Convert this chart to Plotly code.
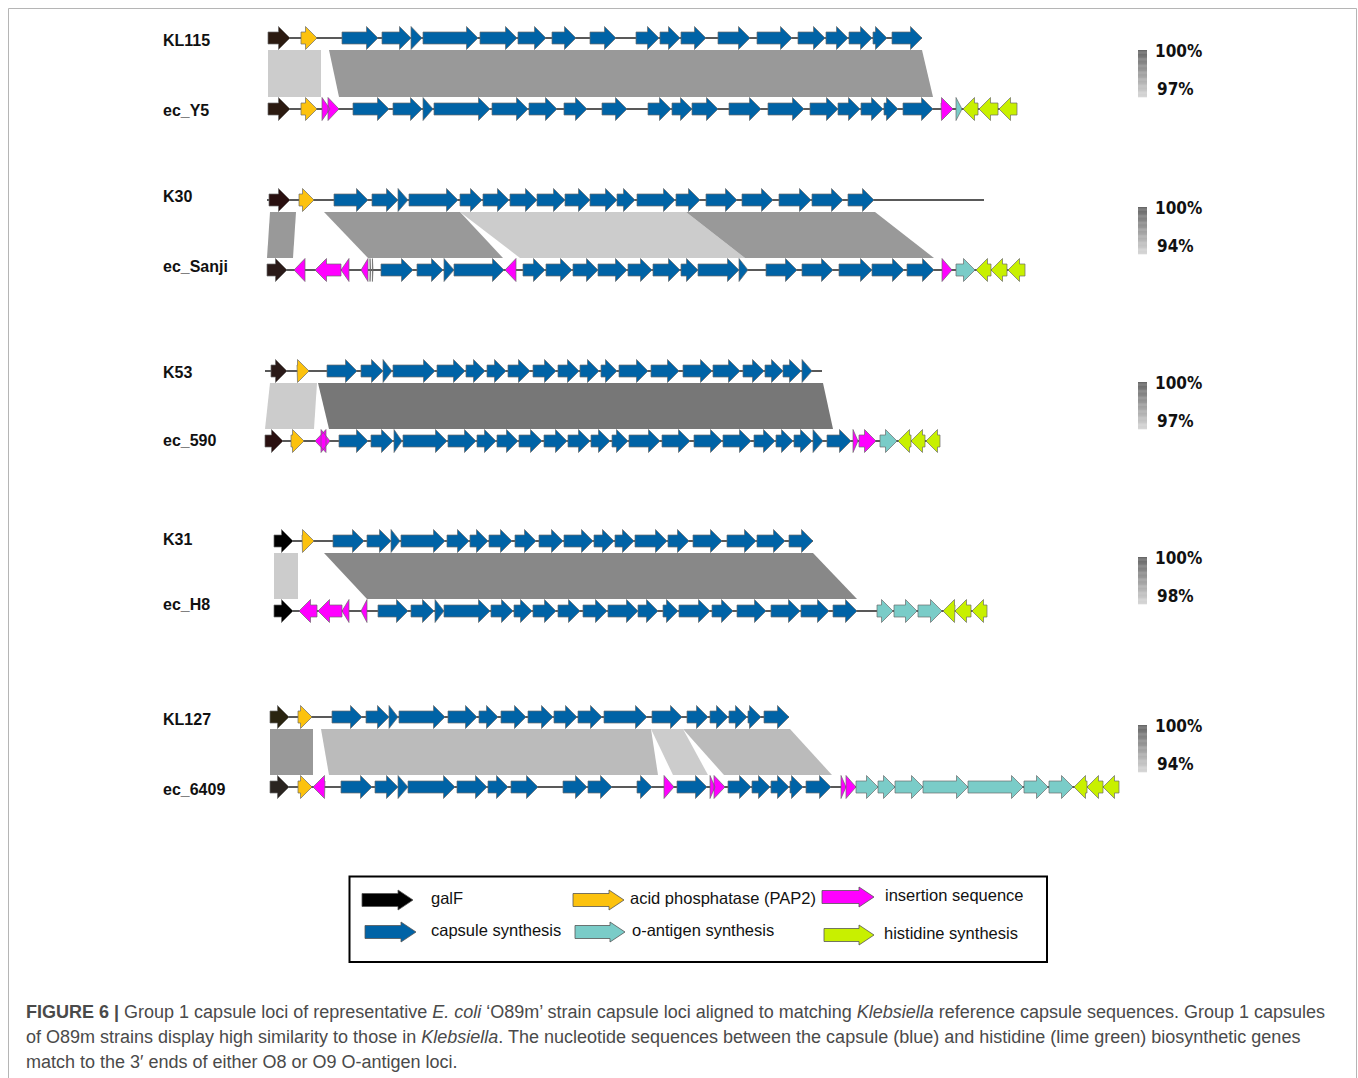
import plotly.graph_objects as go

W, H = 1358, 1078

# ---- loci: names, row centres, label rows, backbone extents -------------
track_names = ["KL115", "ec_Y5", "K30", "ec_Sanji", "K53", "ec_590",
               "K31", "ec_H8", "KL127", "ec_6409"]
track_y = [38, 109, 200, 270, 371, 441, 541, 611, 717, 787]
label_y = [40, 110, 196, 266, 372, 440, 539, 604, 719, 789]
backbone = [(268, 922), (268, 1017), (267, 984), (267, 1025), (265, 822),
            (265, 940), (274, 813), (274, 987), (270, 789), (270, 1119)]
galf_colour = ["#2b1a10", "#2b1a10", "#2a1010", "#2a1a18", "#2a1a18",
               "#2a1010", "#000000", "#000000", "#2a2410", "#2a2420"]

# ---- genes: (start, end, class, strand) in map units ---------------------
# classes: g galF, p PAP2, c capsule, i insertion seq, o O-antigen, h his, x tiny ORF
KL115 = [(268, 290, "g", 1), (301, 317, "p", 1)] + [
    (s, e, "c", 1) for s, e in [(342, 378), (382, 411), (411, 422), (423, 478), (480, 517),
                                (518, 546), (552, 576), (590, 616), (636, 659), (660, 680),
                                (681, 706), (718, 750), (757, 792), (798, 825), (826, 848),
                                (849, 872), (873, 887), (892, 922)]]
ec_Y5 = [(268, 290, "g", 1), (301, 317, "p", 1), (322, 330, "i", 1), (328, 339, "i", 1)] + [
    (s, e, "c", 1) for s, e in [(353, 389), (393, 422), (423, 433), (434, 490), (492, 528),
                                (529, 557), (564, 587), (602, 627), (648, 671), (672, 692),
                                (692, 718), (729, 761), (768, 804), (810, 838), (838, 860),
                                (861, 883), (884, 898), (903, 933)]] + [
    (941, 953, "i", 1), (956, 962, "o", 1),
    (963, 978, "h", -1), (979, 998, "h", -1), (999, 1017, "h", -1)]
K30 = [(269, 290, "g", 1), (299, 314, "p", 1)] + [
    (s, e, "c", 1) for s, e in [(334, 368), (372, 398), (398, 408), (409, 458), (460, 482),
                                (483, 509), (510, 537), (537, 565), (565, 590), (590, 617),
                                (617, 635), (637, 675), (676, 700), (706, 737), (742, 773),
                                (779, 811), (812, 843), (848, 874)]]
ec_Sanji = [(267, 287, "g", 1), (294, 305, "i", -1), (315, 341, "i", -1),
            (341, 349, "i", -1), (361, 368, "i", -1), (370, 370.6, "x", 1),
            (372.4, 373, "x", 1)] + [
    (s, e, "c", 1) for s, e in [(381, 413), (417, 443), (444, 454), (454, 504)]] + [
    (505, 516, "i", -1)] + [
    (s, e, "c", 1) for s, e in [(523, 545), (546, 572), (573, 598), (598, 627), (628, 652),
                                (653, 680), (681, 698), (698, 739), (739, 748), (766, 797),
                                (802, 833), (839, 872), (872, 904), (907, 934)]] + [
    (942, 952, "i", 1), (956, 975, "o", 1),
    (976, 991, "h", -1), (991, 1007, "h", -1), (1008, 1025, "h", -1)]
K53 = [(271, 287, "g", 1), (297, 309, "p", 1)] + [
    (s, e, "c", 1) for s, e in [(327, 357), (361, 383), (383, 392), (393, 435), (437, 465),
                                (466, 485), (487, 506), (508, 530), (533, 556), (558, 579),
                                (580, 599), (601, 617), (619, 648), (651, 679), (683, 712),
                                (713, 740), (743, 764), (765, 783), (783, 801), (802, 812)]]
ec_590 = [(265, 283, "g", 1), (291, 304, "p", 1), (315, 326, "i", -1), (321, 330, "i", 1)] + [
    (s, e, "c", 1) for s, e in [(339, 368), (371, 393), (394, 402), (403, 447), (448, 476),
                                (477, 496), (497, 518), (519, 542), (544, 567), (568, 590),
                                (591, 610), (612, 628), (629, 660), (662, 690), (694, 722),
                                (723, 751), (754, 775), (776, 793), (794, 812), (813, 823),
                                (827, 851)]] + [
    (853, 858, "i", 1), (859, 876, "i", 1), (880, 897, "o", 1),
    (898, 911, "h", -1), (911, 925, "h", -1), (926, 940, "h", -1)]
K31 = [(274, 293, "g", 1), (302, 314, "p", 1)] + [
    (s, e, "c", 1) for s, e in [(333, 364), (367, 391), (391, 400), (401, 445), (447, 469),
                                (470, 488), (489, 512), (515, 536), (539, 563), (564, 593),
                                (594, 614), (615, 634), (635, 667), (668, 689), (693, 722),
                                (727, 756), (757, 785), (789, 813)]]
ec_H8 = [(274, 293, "g", 1), (299, 317, "i", -1), (318, 342, "i", -1),
         (342, 349, "i", -1), (361, 367, "i", -1)] + [
    (s, e, "c", 1) for s, e in [(378, 408), (411, 434), (435, 444), (444, 490), (491, 513),
                                (514, 532), (533, 556), (558, 580), (583, 607), (608, 638),
                                (638, 658), (663, 678), (679, 710), (712, 733), (737, 766),
                                (771, 800), (801, 829), (833, 857)]] + [
    (877, 893, "o", 1), (894, 917, "o", 1), (918, 942, "o", 1),
    (943, 955, "h", -1), (955, 971, "h", -1), (972, 987, "h", -1)]
KL127 = [(270, 289, "g", 1), (298, 312, "p", 1)] + [
    (s, e, "c", 1) for s, e in [(332, 362), (366, 389), (389, 398), (399, 445), (448, 477),
                                (479, 498), (501, 526), (528, 553), (554, 577), (578, 602),
                                (604, 647), (652, 682), (687, 708), (710, 728), (729, 747),
                                (748, 761), (764, 789)]]
ec_6409 = [(270, 289, "g", 1), (298, 312, "p", 1), (313, 325, "i", -1)] + [
    (s, e, "c", 1) for s, e in [(341, 372), (375, 398), (398, 408), (408, 455), (457, 487),
                                (488, 508), (511, 538), (563, 587), (588, 612), (637, 652)]] + [
    (664, 674, "i", 1), (677, 707, "c", 1), (710, 715, "i", 1), (714, 725, "i", 1)] + [
    (s, e, "c", 1) for s, e in [(728, 751), (752, 770), (771, 789), (790, 803), (806, 831)]] + [
    (841, 846, "i", 1), (846, 856, "i", 1)] + [
    (s, e, "o", 1) for s, e in [(856, 878), (878, 895), (895, 923), (923, 968), (968, 1023),
                                (1024, 1048), (1049, 1073)]] + [
    (1074, 1087, "h", -1), (1087, 1103, "h", -1), (1103, 1119, "h", -1)]

loci = [KL115, ec_Y5, K30, ec_Sanji, K53, ec_590, K31, ec_H8, KL127, ec_6409]

# ---- BLAST match blocks between paired loci ------------------------------
# (top start, top end, bottom start, bottom end, shade)
pair_rows = [(0, 1), (2, 3), (4, 5), (6, 7), (8, 9)]
pair1 = [(268, 321, 268, 321, "#cccccc"), (329, 922, 339, 933, "#999999")]
pair2 = [(460, 686, 520, 745, "#cccccc"), (270, 296, 267, 293, "#999999"),
         (324, 460, 368, 503, "#999999"), (686, 875, 745, 934, "#999999")]
pair3 = [(270, 317, 265, 314, "#cccccc"), (318, 823, 329, 833, "#777777")]
pair4 = [(274, 298, 274, 298, "#cccccc"), (324, 813, 367, 857, "#888888")]
pair5 = [(270, 313, 270, 313, "#999999"), (321, 651, 329, 658, "#bbbbbb"),
         (651, 683, 673, 708, "#cccccc"), (683, 790, 724, 832, "#bbbbbb")]
pairs = [pair1, pair2, pair3, pair4, pair5]

# identity scale per pair
scale_min = ["97%", "94%", "97%", "98%", "94%"]
scale_top = [50, 207, 382, 557, 725]

# ---- legend --------------------------------------------------------------
class_colour = {"c": "#0063a6", "p": "#fcc20e", "i": "#ff00ff",
                "o": "#7accc8", "h": "#c8f000", "x": "#666666"}
legend_labels = ["galF", "capsule synthesis", "acid phosphatase (PAP2)",
                 "o-antigen synthesis", "insertion sequence", "histidine synthesis"]
legend_colours = ["#000000", "#0063a6", "#fcc20e", "#7accc8", "#ff00ff", "#c8f000"]
legend_arrow_x = [(362, 413), (365, 416), (573, 624), (575, 625), (822, 874), (824, 874)]
legend_row_y = [900, 932, 900, 932, 897, 935]
legend_text_x = [429, 429, 628, 630, 883, 882]

caption_lines = [
    "<b>FIGURE 6 |</b> Group 1 capsule loci of representative <i>E. coli</i> ‘O89m’ strain "
    "capsule loci aligned to matching <i>Klebsiella</i> reference capsule sequences. Group 1 capsules",
    "of O89m strains display high similarity to those in <i>Klebsiella</i>. The nucleotide "
    "sequences between the capsule (blue) and histidine (lime green) biosynthetic genes",
    "match to the 3′ ends of either O8 or O9 O-antigen loci.",
]


def arrow(s, e, y, strand, body=6.0, head=11.5, hl=11.5):
    """Polygon outline of a gene arrow, always wound the same way."""
    h = min(hl, e - s)
    if strand > 0:
        b = e - h
        if b <= s + 0.01:
            return [s, e, s, s], [y - head, y, y + head, y - head]
        return ([s, b, b, e, b, b, s, s],
                [y - body, y - body, y - head, y, y + head, y + body, y + body, y - body])
    b = s + h
    if b >= e - 0.01:
        xs, ys = [e, s, e, e], [y - head, y, y + head, y - head]
    else:
        xs = [e, b, b, s, b, b, e, e]
        ys = [y - body, y - body, y - head, y, y + head, y + body, y + body, y - body]
    return xs[::-1], ys[::-1]


fig = go.Figure()

# match blocks
for (ta, tb), blocks in zip(pair_rows, pairs):
    y0, y1 = track_y[ta] + 12, track_y[tb] - 12
    for ts, te, bs, be, col in blocks:
        fig.add_trace(go.Scatter(
            x=[ts, te, be, bs, ts], y=[y0, y0, y1, y1, y0], mode="lines",
            fill="toself", fillcolor=col, line=dict(width=0), hoverinfo="skip"))

# backbones
for (x0, x1), y in zip(backbone, track_y):
    fig.add_trace(go.Scatter(x=[x0, x1], y=[y, y], mode="lines",
                             line=dict(color="#222222", width=1.5), hoverinfo="skip"))

# genes grouped by fill colour
polys = {}
for genes, y, gcol in zip(loci, track_y, galf_colour):
    for s, e, k, strand in genes:
        col = gcol if k == "g" else class_colour[k]
        xs, ys = arrow(s, e, y, strand)
        px, py = polys.setdefault(col, ([], []))
        px.extend(xs + [None])
        py.extend(ys + [None])
for col, (px, py) in polys.items():
    fig.add_trace(go.Scatter(x=px, y=py, mode="lines", fill="toself", fillcolor=col,
                             line=dict(color="#6a6a6a", width=0.7), hoverinfo="skip"))

# legend arrows
for (x0, x1), y, col in zip(legend_arrow_x, legend_row_y, legend_colours):
    xs, ys = arrow(x0, x1, y, 1, body=6.5, head=10, hl=15)
    fig.add_trace(go.Scatter(x=xs, y=ys, mode="lines", fill="toself", fillcolor=col,
                             line=dict(color="#555555", width=0.8), hoverinfo="skip"))

shapes = []
annotations = []

# locus labels
for name, y in zip(track_names, label_y):
    annotations.append(dict(x=161, y=y, text=f"<b>{name}</b>", showarrow=False,
                            xanchor="left", yanchor="middle",
                            font=dict(family="Liberation Sans, Arial", size=16, color="#111111")))

# identity gradient bars
n_steps = 40
bar_h = 47
pct_font = dict(family="DejaVu Sans Condensed, Liberation Sans", size=17, color="#111111")
for top, lo in zip(scale_top, scale_min):
    for k in range(n_steps):
        t = k / (n_steps - 1)
        v = int(round(0x68 + t * (0xd6 - 0x68)))
        shapes.append(dict(type="rect", x0=1138, x1=1147,
                           y0=top + k * bar_h / n_steps, y1=top + (k + 1) * bar_h / n_steps + 0.3,
                           fillcolor=f"rgb({v},{v},{v})", line=dict(width=0)))
    annotations.append(dict(x=1153, y=top + 1, text="<b>100%</b>", showarrow=False,
                            xanchor="left", yanchor="middle", font=pct_font))
    annotations.append(dict(x=1155, y=top + 39, text=f"<b>{lo}</b>", showarrow=False,
                            xanchor="left", yanchor="middle", font=pct_font))

# legend box and labels
shapes.append(dict(type="rect", x0=349.5, x1=1047, y0=876.5, y1=962,
                   line=dict(color="#000000", width=2), fillcolor="rgba(0,0,0,0)"))
for lab, x, y in zip(legend_labels, legend_text_x, legend_row_y):
    annotations.append(dict(x=x, y=y - 2, text=lab, showarrow=False, xanchor="left",
                            yanchor="middle",
                            font=dict(family="Liberation Sans, Arial", size=16.5, color="#111111")))

# figure frame
shapes.append(dict(type="rect", x0=8.5, x1=1356.5, y0=8.5, y1=1100,
                   line=dict(color="#b5b5b5", width=1), fillcolor="rgba(0,0,0,0)"))

# caption
for i, line in enumerate(caption_lines):
    annotations.append(dict(x=24, y=1012 + 25 * i, text=line, showarrow=False,
                            xanchor="left", yanchor="middle",
                            font=dict(family="Liberation Sans, Arial", size=18, color="#4a4a4a")))

fig.update_layout(
    width=W, height=H, margin=dict(l=0, r=0, t=0, b=0),
    paper_bgcolor="white", plot_bgcolor="white", showlegend=False,
    xaxis=dict(range=[0, W], visible=False, fixedrange=True),
    yaxis=dict(range=[H, 0], visible=False, fixedrange=True),
    shapes=shapes, annotations=annotations,
)

fig.write_html("out.html")
